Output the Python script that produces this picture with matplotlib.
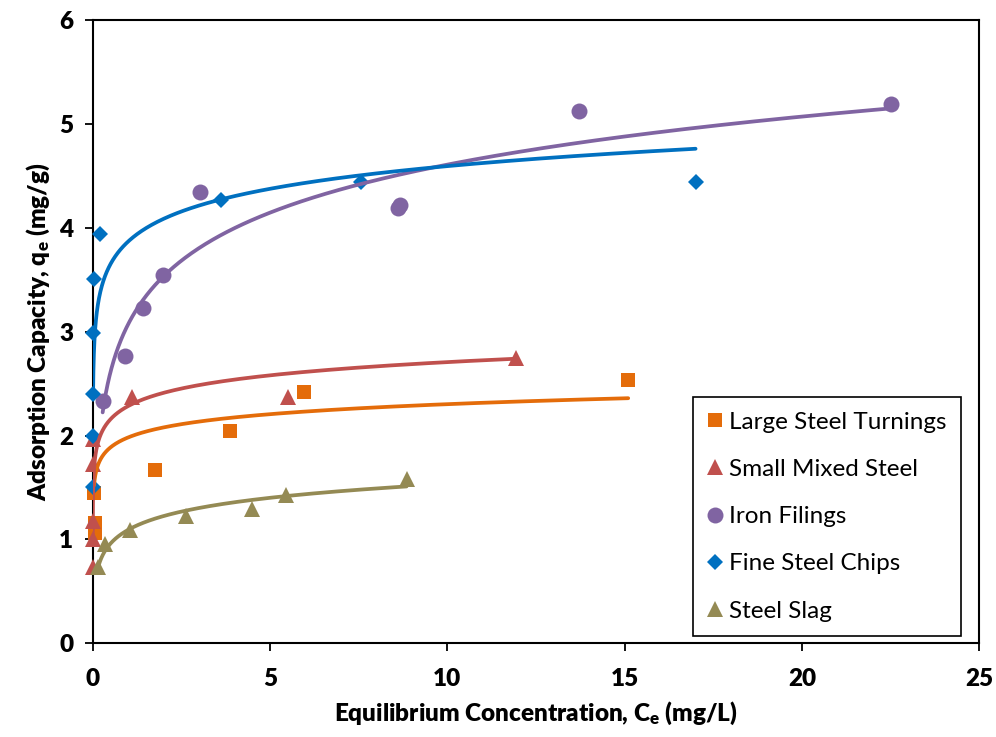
import numpy as np
import matplotlib
matplotlib.use('Agg')
import matplotlib.pyplot as plt

plt.rcParams['font.family'] = ['Lato', 'DejaVu Sans']
plt.rcParams['mathtext.default'] = 'regular'

# --- data (Ce in mg/L, qe in mg/g) ---
names = ["Large Steel Turnings", "Small Mixed Steel", "Iron Filings",
         "Fine Steel Chips", "Steel Slag"]

lst_x = [0.04, 0.05, 0.06, 1.75, 3.87, 5.95, 15.1]
lst_y = [1.45, 1.16, 1.06, 1.67, 2.04, 2.42, 2.53]

sms_x = [0.001, 0.002, 0.003, 0.01, 0.015, 1.1, 5.5, 11.95]
sms_y = [0.73, 1.00, 1.18, 1.73, 1.97, 2.37, 2.37, 2.75]

iron_x = [0.28, 0.90, 1.43, 1.99, 3.03, 8.62, 8.66, 13.7, 22.5]
iron_y = [2.33, 2.77, 3.23, 3.55, 4.34, 4.19, 4.22, 5.12, 5.19]

fsc_x = [0.01, 0.01, 0.01, 0.02, 0.03, 0.2, 3.63, 7.57, 17.0]
fsc_y = [1.50, 2.00, 2.40, 2.99, 3.51, 3.94, 4.27, 4.44, 4.44]

slag_x = [0.135, 0.36, 1.04, 2.64, 4.50, 5.45, 8.85]
slag_y = [0.73, 0.96, 1.09, 1.23, 1.29, 1.43, 1.58]

# logarithmic trendlines q = a*ln(C) + b
trend_a = [0.139, 0.1837, 0.667, 0.315, 0.1915]
trend_b = [1.982, 2.284, 3.072, 3.868, 1.0925]
trend_xmin = [0.036, 0.001, 0.28, 0.009, 0.135]
trend_xmax = [15.1, 11.95, 22.5, 17.0, 8.85]

colors = ['#E46C0A', '#C0504D', '#8064A2', '#0070C0', '#948A54']
markers = ['s', '^', 'o', 'D', '^']
msizes = [10, 11.5, 11.5, 8.5, 11.5]

series_x = [lst_x, sms_x, iron_x, fsc_x, slag_x]
series_y = [lst_y, sms_y, iron_y, fsc_y, slag_y]

BOLD = 800

fig = plt.figure(figsize=(9.96, 7.37), dpi=100)
ax = fig.add_axes([0.0931, 0.1271, 0.8901, 0.8458])

for i in range(5):
    ax.plot(series_x[i], series_y[i], linestyle='none', marker=markers[i],
            markersize=msizes[i], color=colors[i], markeredgewidth=0,
            label=names[i], zorder=3 + i * 0.1, clip_on=False)

for i in range(5):
    cx = np.geomspace(trend_xmin[i], trend_xmax[i], 400)
    ax.plot(cx, trend_a[i] * np.log(cx) + trend_b[i], color=colors[i],
            linewidth=2.7, solid_capstyle='round', zorder=4)

ax.set_xlim(0, 25)
ax.set_ylim(0, 6)
ax.set_xticks(range(0, 26, 5))
ax.set_yticks(range(0, 7))
for s in ax.spines.values():
    s.set_linewidth(1.5)
    s.set_color('black')
ax.tick_params(direction='out', length=6, width=1.3, labelsize=17.5)
ax.tick_params(axis='x', pad=12)
ax.tick_params(axis='y', pad=8)
for lab in ax.get_xticklabels() + ax.get_yticklabels():
    lab.set_fontweight(BOLD)

ax.set_xlabel(r'Equilibrium Concentration, C$_\mathregular{e}$ (mg/L)',
              fontsize=17.5, fontweight=BOLD, labelpad=7)
ax.set_ylabel(r'Adsorption Capacity, q$_\mathregular{e}$ (mg/g)',
              fontsize=17.5, fontweight=BOLD, labelpad=5)

leg = ax.legend(loc='upper left', bbox_to_anchor=(0.677, 0.395),
                borderaxespad=0, fancybox=False, edgecolor='black',
                framealpha=1, fontsize=17.5, numpoints=1, handlelength=0.6,
                handletextpad=0.3, labelspacing=1.08, borderpad=0.6)
leg.get_frame().set_linewidth(1.2)

fig.savefig('out.png', dpi=100)
